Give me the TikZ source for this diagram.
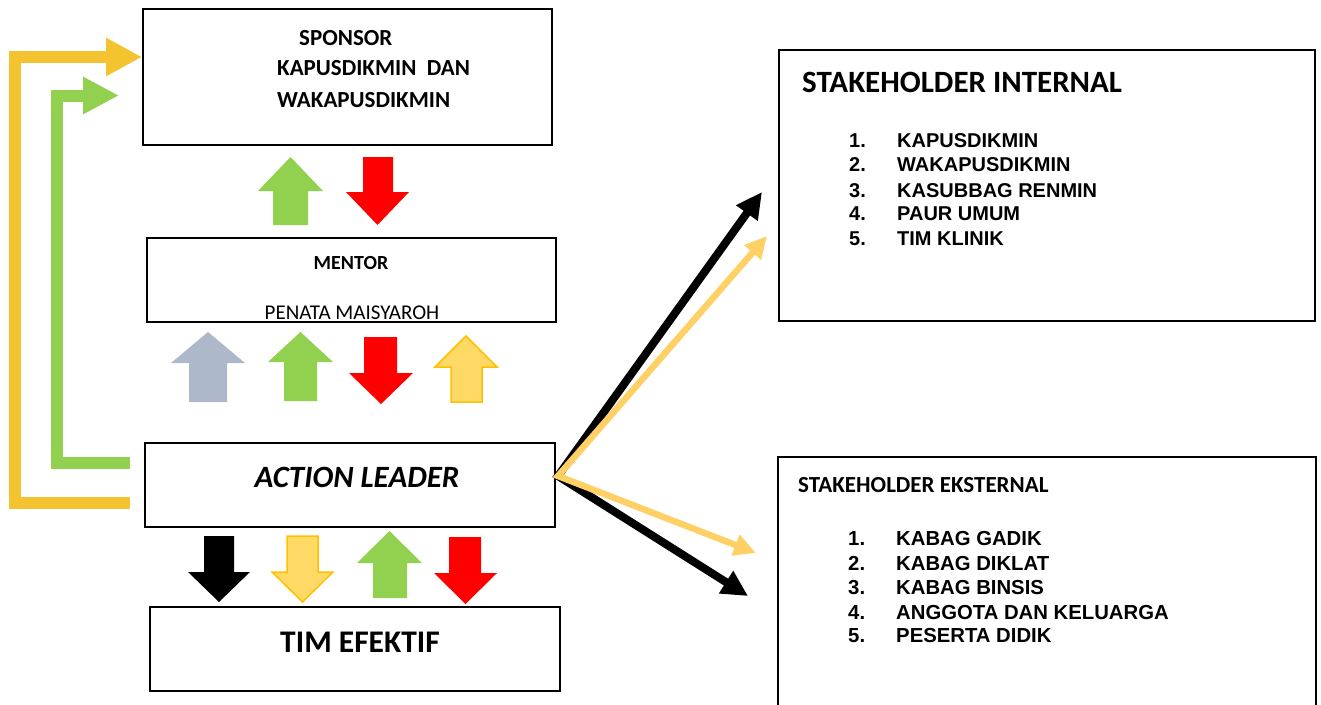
\documentclass[tikz,border=0pt]{standalone}
\usepackage{fontspec}
\setmainfont{Carlito}
\newfontfamily\arialfont{Liberation Sans}
\usetikzlibrary{arrows.meta}
\definecolor{gr}{HTML}{92D050}
\definecolor{rd}{HTML}{FF0000}
\definecolor{gb}{HTML}{ADB9CA}
\definecolor{ly}{HTML}{FFD966}
\definecolor{lyo}{HTML}{FFC000}
\definecolor{ey}{HTML}{F4C430}
\definecolor{dy}{HTML}{FFD066}
% block arrow: style, xl, shaft-left, shaft-right, xr, tip y, head-base y, tail y
\newcommand{\blockarrow}[8]{\path[#1] (#2,#7) -- ({(#2+#5)/2},#6) -- (#5,#7) -- (#4,#7) -- (#4,#8) -- (#3,#8) -- (#3,#7) -- cycle;}
\begin{document}
\begin{tikzpicture}[x=1pt,y=-1pt,
  box/.style={draw=black, line width=2pt, inner sep=0pt},
  lbl/.style={anchor=base west, inner sep=0pt},
  clbl/.style={anchor=base, inner sep=0pt},
  fgr/.style={fill=gr},
  frd/.style={fill=rd},
  fgb/.style={fill=gb},
  fbk/.style={fill=black},
  fly/.style={fill=ly, draw=lyo, line width=1.5pt, line join=miter},
  item/.style={anchor=base west, inner sep=0pt, font=\arialfont\bfseries\fontsize{20}{24}\selectfont},
  eitem/.style={anchor=base west, inner sep=0pt, font=\arialfont\bfseries\fontsize{20.3}{24}\selectfont}
]
\useasboundingbox (0,0) rectangle (1321,704);

% boxes
\node[box, minimum width=409pt, minimum height=136pt] (sp) at (347.5,77) {};
\node[box, minimum width=409pt, minimum height=84pt] (me) at (351.5,280) {};
\node[box, minimum width=410pt, minimum height=84pt] (al) at (350,485) {};
\node[box, minimum width=410pt, minimum height=84pt] (te) at (355,649) {};
\node[box, minimum width=536pt, minimum height=271pt] (si) at (1047,185.5) {};
\node[box, minimum width=538pt, minimum height=255pt] (se) at (1047,584.5) {};

% sponsor text
\node[lbl, font=\bfseries\fontsize{23}{28}\selectfont] (spt1) at (299,45.4) {SPONSOR};
\node[lbl, font=\bfseries\fontsize{23}{28}\selectfont] (spt2) at (277,75.4) {KAPUSDIKMIN\ \ DAN};
\node[lbl, font=\bfseries\fontsize{23}{28}\selectfont] (spt3) at (277,107.4) {WAKAPUSDIKMIN};

% mentor text
\node[clbl, font=\bfseries\fontsize{20}{24}\selectfont] (met1) at (351,269.5) {MENTOR};
\node[clbl, font=\fontsize{21}{25}\selectfont] (met2) at (352,319.7) {PENATA MAISYAROH};

% action leader, tim efektif
\node[clbl, font=\bfseries\itshape\fontsize{31}{36}\selectfont] (alt) at (357,487) {ACTION LEADER};
\node[clbl, font=\bfseries\fontsize{31.5}{36}\selectfont] (tet) at (360,652) {TIM EFEKTIF};

% stakeholder internal
\node[lbl, font=\bfseries\fontsize{31}{36}\selectfont] (sit) at (802,92) {STAKEHOLDER INTERNAL};
\node[item] (sin1) at (849,147.2) {1.};
\node[item] (sii1) at (897,147.2) {KAPUSDIKMIN};
\node[item] (sin2) at (849,171.2) {2.};
\node[item] (sii2) at (897,171.2) {WAKAPUSDIKMIN};
\node[item] (sin3) at (849,197.2) {3.};
\node[item] (sii3) at (897,197.2) {KASUBBAG RENMIN};
\node[item] (sin4) at (849,220.2) {4.};
\node[item] (sii4) at (897,220.2) {PAUR UMUM};
\node[item] (sin5) at (849,245.2) {5.};
\node[item] (sii5) at (897,245.2) {TIM KLINIK};

% stakeholder eksternal
\node[lbl, font=\bfseries\fontsize{23}{27}\selectfont] (set) at (798,492) {STAKEHOLDER EKSTERNAL};
\node[eitem] (sen1) at (848,545) {1.};
\node[eitem] (sei1) at (896,545) {KABAG GADIK};
\node[eitem] (sen2) at (848,570) {2.};
\node[eitem] (sei2) at (896,570) {KABAG DIKLAT};
\node[eitem] (sen3) at (848,594) {3.};
\node[eitem] (sei3) at (896,594) {KABAG BINSIS};
\node[eitem] (sen4) at (848,619) {4.};
\node[eitem] (sei4) at (896,619) {ANGGOTA DAN KELUARGA};
\node[eitem] (sen5) at (848,642) {5.};
\node[eitem] (sei5) at (896,642) {PESERTA DIDIK};

% block arrows between sponsor and mentor
\blockarrow{fgr}{258}{273}{308}{323}{157}{191}{225}
\blockarrow{frd}{346}{363}{393}{409}{225}{192}{157}
% between mentor and action leader
\blockarrow{fgb}{171}{189}{227}{245}{332}{363}{402}
\blockarrow{fgr}{268}{284}{317}{333}{332}{362}{401}
\blockarrow{frd}{349}{364}{397}{413}{404}{373}{337}
\blockarrow{fly}{435}{451}{482}{497}{336}{367}{402}
% between action leader and tim efektif
\blockarrow{fbk}{188}{204}{234}{250}{602}{572}{536}
\blockarrow{fly}{272}{287}{318}{333}{602}{572}{536}
\blockarrow{fgr}{357}{373}{407}{422}{531}{563}{598}
\blockarrow{frd}{434}{449}{481}{497}{604}{573}{537}

% elbow feedback arrows
\coordinate (yS) at ([xshift=-14pt]al.west |- 0,503);
\coordinate (yE) at (142,57);
\coordinate (gS) at ([xshift=-14pt]al.west |- 0,463);
\coordinate (gE) at (119,95.5);
\draw[ey, line width=12pt, line join=miter, -{Triangle[length=36pt,width=36pt]}] (yS) -| (15,57) -- (yE);
\draw[gr, line width=12pt, line join=miter, -{Triangle[length=36pt,width=35pt]}] (gS) -| (57,95.5) -- (gE);

% diagonal arrows to stakeholders
\coordinate (src) at ([yshift=9pt,xshift=2pt]al.east);
\coordinate (t1) at (762,192);
\coordinate (t2) at (767,236);
\coordinate (t3) at (756,553);
\coordinate (t4) at (748,596);
\draw[black, line width=8pt, line join=miter, {Triangle[length=26pt,width=25pt]}-{Triangle[length=26pt,width=25pt]}] (t1) -- (src) -- (t4);
\draw[dy, line width=6.5pt, line join=miter, {Triangle[length=22pt,width=21pt]}-{Triangle[length=22pt,width=21pt]}] (t2) -- (src) -- (t3);
\end{tikzpicture}
\end{document}
